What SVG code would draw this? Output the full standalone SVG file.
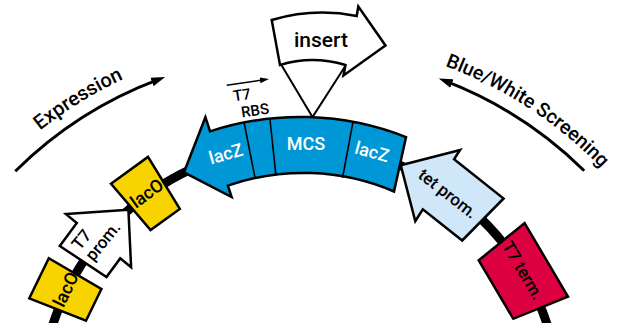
<svg xmlns="http://www.w3.org/2000/svg" width="622" height="323" viewBox="0 0 622 323">
<defs>
<style>
.ol{stroke:#000;stroke-width:2.5;stroke-linejoin:miter}
.t{font-family:Roboto,"Liberation Sans",Arial,sans-serif;font-weight:500;font-size:17px;fill:#000}
.w{fill:#fff}
.s{font-size:15px}
.big{font-family:Roboto,"Liberation Sans",Arial,sans-serif;font-weight:500;font-size:20px;fill:#000}
.arc{fill:none;stroke:#000;stroke-width:3}
</style>
<marker id="ah" markerUnits="userSpaceOnUse" markerWidth="14" markerHeight="10" refX="8" refY="4.5" orient="auto" viewBox="0 0 14 9"><path d="M0,0 L14,4.5 L0,9 z" fill="#000"/></marker>
<marker id="ahs" markerUnits="userSpaceOnUse" markerWidth="9" markerHeight="7" refX="4" refY="3" orient="auto" viewBox="0 0 9 6"><path d="M0,0 L9,3 L0,6 z" fill="#000"/></marker>
<path id="exprPath" d="M 4.4,162.4 A 418 418 0 0 1 168.1,61.4"/>
<path id="bwPath" d="M 429.2,60.5 A 418 418 0 0 1 612.6,180.5"/>
</defs>
<rect width="622" height="323" fill="#fff"/>
<g id="connectors">
<path id="backbone" d="M 44,359.9 A 260 260 0 0 1 556,359.9" fill="none" stroke="#000" stroke-width="9"/>
<path id="expression-arrow" class="arc" d="M 15.3,171.3 A 404 404 0 0 1 159.5,79.2" marker-end="url(#ah)"/>
<path id="bw-arrow" class="arc" d="M 584.2,170.8 A 404 404 0 0 0 444.4,80.7" marker-end="url(#ah)"/>
<path id="rbs-arrow" d="M 226.7,85.3 L 264,79.8" stroke="#000" stroke-width="1.6" fill="none" marker-end="url(#ahs)"/>
<path id="insert-lines" d="M 281.7,65.5 L 312.5,117 L 345,66.5" fill="none" stroke="#000" stroke-width="2"/>
</g>
<g id="lacO-bottom">
<path class="ol" fill="#f7d300" d="M 29.3,298.3 L 48.8,258.2 L 101.4,289 L 86,320.7 Z"/>
<text class="t" x="66" y="295.5" text-anchor="middle" transform="rotate(-64 66 289.5)" style="font-size:18px">lacO</text>
</g>
<g id="T7-prom">
<path class="ol" fill="#fff" d="M 128.4,209.7 L 66,214.1 L 76.8,223 L 59.8,246 L 106.5,277 L 120.2,258.4 L 131.1,267.2 Z"/>
<g transform="rotate(-51 300 405)">
<text class="t" x="281" y="137">T7</text>
<text class="t" x="281" y="154.5">prom.</text>
</g>
</g>
<g id="lacO-top">
<path class="ol" fill="#f7d300" d="M 111,183.7 L 148,156.9 L 179.8,208.9 L 150.6,230.1 Z"/>
<text class="t" x="147" y="199.5" text-anchor="middle" transform="rotate(-36 147 193.5)" style="font-size:18px">lacO</text>
</g>
<g id="lacZ">
<path class="ol" fill="#0097d6" d="M 184,172.3 L 205.4,117.2 L 210.1,131.4 A 288 288 0 0 1 406,137.2 L 394,191.5 A 231 231 0 0 0 227.9,185.6 L 231.6,197 Z"/>
<path d="M 244.1,122.5 L 255.1,178.4 M 269.9,118.6 L 275.9,175.3 M 353,121.9 L 342.5,177.9" stroke="#000" stroke-width="1.6" fill="none"/>
<text class="t w" x="226" y="160" text-anchor="middle" transform="rotate(-16 226 154)" style="font-size:18px">lacZ</text>
<text class="t w" x="306" y="150" text-anchor="middle" style="font-size:18px">MCS</text>
<text class="t w" x="372" y="158" text-anchor="middle" transform="rotate(15 372 152)" style="font-size:18px">lacZ</text>
</g>
<g id="RBS-label">
<text class="t s" x="242" y="100" text-anchor="middle" transform="rotate(-9 242 95)">T7</text>
<text class="t s" x="255" y="115.5" text-anchor="middle" transform="rotate(-9 255 110)">RBS</text>
</g>
<g id="insert">
<path class="ol" fill="#fff" d="M 271.7,20 Q 314,7.5 356.7,16 L 358.3,6.5 L 385.5,45.5 L 343.5,75.5 L 345.5,65 Q 312,55 280,65 Z"/>
<text class="big" x="321" y="47" text-anchor="middle" style="font-size:21px">insert</text>
</g>
<g id="tet-prom">
<path class="ol" fill="#cfe7f8" d="M 400.8,165.3 L 460,150 L 454.1,159.3 L 503.6,198.5 L 462.2,240.5 L 422.8,209.3 L 415.3,221.2 Z"/>
<text class="t" x="448" y="199.5" text-anchor="middle" transform="rotate(38 448 193.5)">tet prom.</text>
</g>
<g id="T7-term">
<path class="ol" fill="#dc0040" d="M 524.6,223.1 L 568,296.7 L 513.3,318.8 L 478.7,260.3 Z"/>
<text class="t" x="523" y="276.5" text-anchor="middle" transform="rotate(59.5 523 270.5)">T7 term.</text>
</g>
<g id="labels">
<text class="big"><textPath href="#exprPath" startOffset="50%" text-anchor="middle">Expression</textPath></text>
<text class="big" style="font-size:19.5px"><textPath href="#bwPath" startOffset="50%" text-anchor="middle">Blue/White Screening</textPath></text>
</g>
</svg>
